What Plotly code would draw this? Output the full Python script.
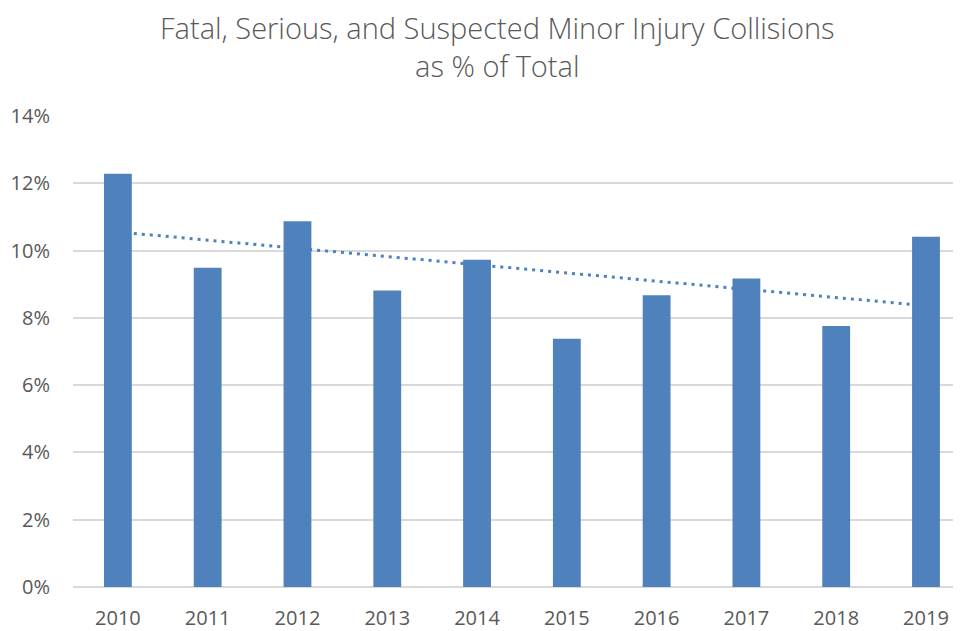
import numpy as np
import plotly.graph_objects as go

years = ["2010", "2011", "2012", "2013", "2014", "2015", "2016", "2017", "2018", "2019"]
pct = [12.28, 9.49, 10.87, 8.81, 9.73, 7.38, 8.67, 9.17, 7.76, 10.41]
y_ticks = [0, 2, 4, 6, 8, 10, 12, 14]
y_tick_labels = ["0%", "2%", "4%", "6%", "8%", "10%", "12%", "14%"]
title_text = "Fatal, Serious, and Suspected Minor Injury Collisions<br>as % of Total"

BLUE = "#4f81bd"
GRAY_TXT = "#595959"
GRID = "#d9d9d9"
FONT = "Open Sans, Noto Sans, sans-serif"

# linear trendline (least squares, like Excel)
idx = np.arange(len(pct))
slope, intercept = np.polyfit(idx, pct, 1)
trend = list(slope * idx + intercept)

# page body has an 8px margin, so the figure is 8px smaller on each axis
W, H = 953, 623
L, T, B = 65, 108, 42
plot_w = W - L
plot_h = H - T - B

fig = go.Figure()
fig.add_trace(go.Bar(x=years, y=pct, marker=dict(color=BLUE, line=dict(width=0)),
                     hoverinfo="x+y", showlegend=False))
fig.add_trace(go.Scatter(x=years, y=trend, mode="lines",
                         line=dict(color=BLUE, width=3, dash="3px,5px"),
                         showlegend=False, hoverinfo="skip"))

fig.add_annotation(
    text=title_text, showarrow=False,
    xref="paper", yref="paper",
    x=(489 - L) / plot_w, xanchor="center",
    y=1 + (T - 38) / plot_h, yanchor="middle",
    font=dict(family=FONT, size=29, color=GRAY_TXT, weight=300),
)

fig.update_layout(
    width=W, height=H,
    margin=dict(l=L, r=0, t=T, b=B, pad=0),
    paper_bgcolor="white", plot_bgcolor="white",
    bargap=0.69,
    font=dict(family=FONT, color=GRAY_TXT, size=20),
    xaxis=dict(
        type="category", range=[-0.5, 9.39],
        showgrid=False, showline=False, zeroline=False,
        ticks="", tickfont=dict(size=20, color=GRAY_TXT),
        ticklabelstandoff=17,
    ),
    yaxis=dict(
        range=[0, 14], tickvals=y_ticks, ticktext=y_tick_labels,
        showgrid=True, gridcolor=GRID, gridwidth=1.5,
        zeroline=True, zerolinecolor=GRID, zerolinewidth=1.5,
        showline=False, ticks="",
        tickfont=dict(size=20, color=GRAY_TXT),
        ticklabelstandoff=22,
    ),
)

fig.write_html("out.html")
